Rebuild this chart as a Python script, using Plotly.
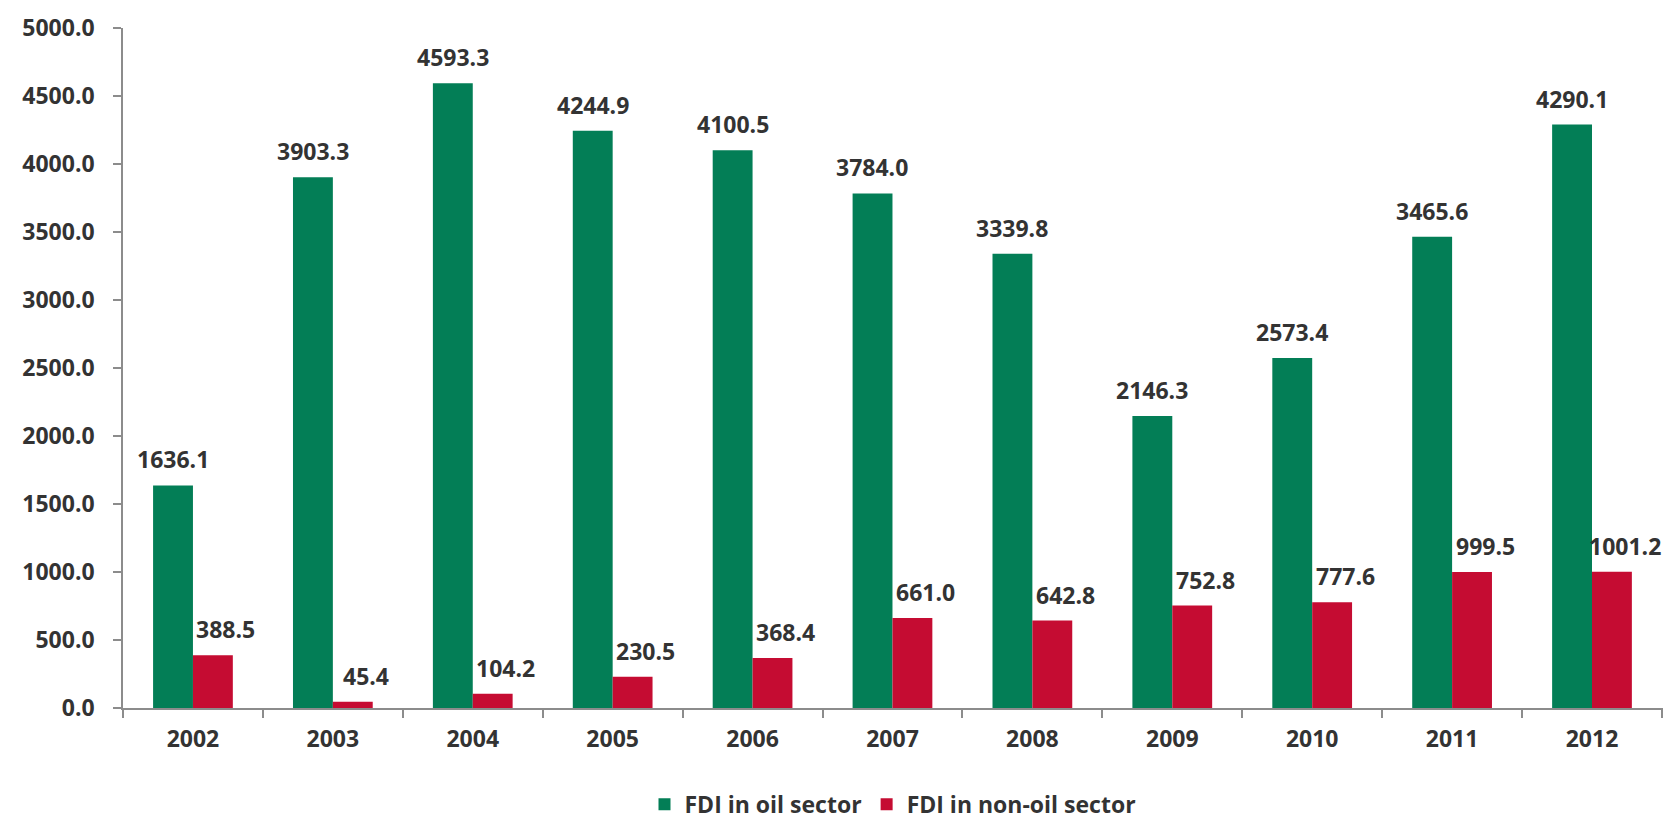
import plotly.graph_objects as go

years = ["2002", "2003", "2004", "2005", "2006", "2007", "2008", "2009", "2010", "2011", "2012"]
oil = [1636.1, 3903.3, 4593.3, 4244.9, 4100.5, 3784.0, 3339.8, 2146.3, 2573.4, 3465.6, 4290.1]
non_oil = [388.5, 45.4, 104.2, 230.5, 368.4, 661.0, 642.8, 752.8, 777.6, 999.5, 1001.2]

GREEN = "#037E56"
RED = "#C50C32"
TXT = "#333333"
FONT = "Open Sans"
FS = 23

fig = go.Figure()
fig.add_trace(go.Bar(x=years, y=oil, name="FDI in oil sector", marker_color=GREEN,
                     marker_line_width=0))
fig.add_trace(go.Bar(x=years, y=non_oil, name="FDI in non-oil sector", marker_color=RED,
                     marker_line_width=0))

annotations = []
for i, y in enumerate(years):
    # category index i positions the label over its year group
    annotations.append(dict(x=i, y=oil[i], xref="x", yref="y", text=f"{oil[i]:.1f}",
                            showarrow=False, xshift=-20, yshift=26,
                            font=dict(family=FONT, size=FS, color=TXT, weight="bold")))
    annotations.append(dict(x=i, y=non_oil[i], xref="x", yref="y", text=f"{non_oil[i]:.1f}",
                            showarrow=False, xshift=33, yshift=26,
                            font=dict(family=FONT, size=FS, color=TXT, weight="bold")))

fig.update_layout(
    width=1672, height=817,
    margin=dict(l=115, r=17, t=20, b=117, autoexpand=False),
    plot_bgcolor="white", paper_bgcolor="white",
    barmode="group", bargap=0.43, bargroupgap=0,
    font=dict(family=FONT, size=FS, color=TXT),
    annotations=annotations,
    legend=dict(orientation="h", x=0.5, xanchor="center", y=-0.11, yanchor="top",
                font=dict(family=FONT, size=FS, color=TXT, weight="bold"),
                itemwidth=30, traceorder="normal"),
    xaxis=dict(type="category", showline=True, linecolor="#8c8c8c", linewidth=1.5, ticks="outside",
               tickson="boundaries", ticklen=8, tickcolor="#8c8c8c", tickwidth=1.5,
               tickfont=dict(family=FONT, size=FS, color=TXT, weight="bold"),
               ticklabelstandoff=10, showgrid=False, tickangle=0, automargin=False),
    yaxis=dict(range=[0, 5000], dtick=500, tickformat=".1f", showline=True,
               linecolor="#8c8c8c", linewidth=1.5, ticks="outside", ticklen=8,
               tickcolor="#8c8c8c", tickwidth=1.5, showgrid=False, zeroline=False,
               tickfont=dict(family=FONT, size=FS, color=TXT, weight="bold"),
               ticklabelstandoff=14, automargin=False),
)

fig.write_html("out.html")
